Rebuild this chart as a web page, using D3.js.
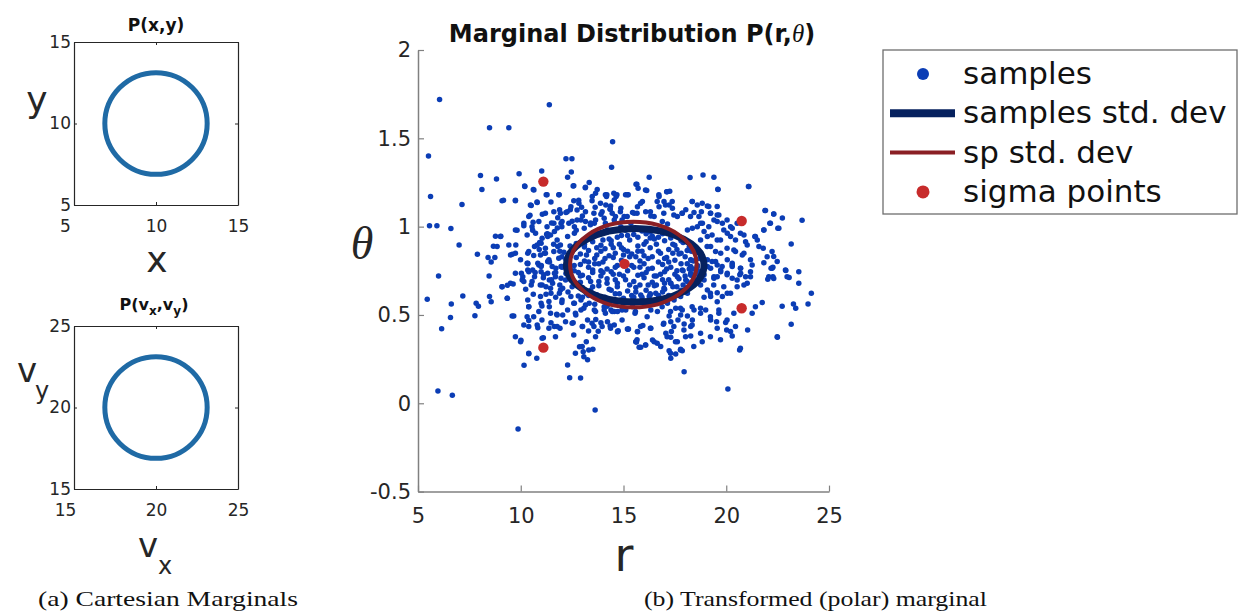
<!DOCTYPE html>
<html>
<head>
<meta charset="utf-8">
<script src="https://cdn.jsdelivr.net/npm/d3@7"></script>
<style>
  body { margin: 0; background: #fff; }
  svg { display: block; font-family: "DejaVu Sans", sans-serif; }
</style>
</head>
<body>
<svg id="fig" width="1239" height="613"></svg>
<script>
// ---- data ----
const posTicks = [5, 10, 15];
const velTicks = [15, 20, 25];
const rTicks = [5, 10, 15, 20, 25];
const thetaTicks = [-0.5, 0, 0.5, 1, 1.5, 2];

// 1-sigma contours of the cartesian marginals (centre, radius)
const posCircle = { cx: 10, cy: 10, rad: 3.12 };
const velCircle = { cx: 20, cy: 20, rad: 3.12 };

// polar samples [r, theta]
const samples = [
  // outliers / left side
  [6.05,1.72],[11.39,1.69],[8.48,1.56],[9.42,1.56],[14.47,1.48],[5.51,1.40],[12.2,1.385],[12.49,1.385],
  [14.42,1.336],[11.02,1.315],[9.92,1.30],[12.46,1.31],[8.04,1.29],[12.28,1.28],[8.82,1.27],[13.33,1.25],
  [10.19,1.23],[12.55,1.23],[8.11,1.21],[10.61,1.21],[13.14,1.22],[13.72,1.21],[5.61,1.17],[11.24,1.18],
  [11.87,1.18],[9.16,1.15],[9.74,1.15],[7.14,1.125],[10.51,1.12],[10.79,1.14],[11.47,1.14],[12.82,1.15],
  [13.48,1.17],[14.17,1.17],[14.64,1.17],[15.19,1.18],[15.61,1.24],[10.45,1.065],[11.05,1.07],[11.89,1.095],
  [12.41,1.095],[12.96,1.11],[13.62,1.11],[14.35,1.10],[5.56,1.005],[5.92,1.005],[6.60,0.99],[10.15,1.005],
  [10.6,1.025],[9.82,0.98],[10.58,0.98],[7.0,0.896],[7.89,0.844],[8.77,0.946],[9.03,0.946],[8.67,0.889],
  [8.41,0.825],[8.74,0.825],[8.56,0.80],[9.59,0.844],[9.76,0.896],[6.0,0.72],[8.46,0.72],[10.03,0.736],
  [10.34,0.79],[10.63,0.836],[10.92,0.91],[11.26,0.957],[11.78,0.993],
  // upper left of the ellipse
  [12.44,1.113],[12.93,1.038],[12.61,1.0],[11.96,1.019],[11.64,0.972],[11.31,0.944],[10.99,0.906],[11.15,0.85],
  [10.67,0.887],[10.34,0.85],[10.83,0.793],[11.31,0.802],[11.8,0.887],[12.28,0.944],[12.61,0.963],[13.09,0.991],
  [13.58,1.019],[14.06,1.047],[14.55,1.038],[15.03,1.057],[15.52,1.076],[13.58,0.963],[14.22,0.981],[14.87,1.0],
  [15.36,1.019],[10.99,0.745],[11.64,0.736],[11.96,0.774],[10.67,0.717],[10.34,0.755],[10.1,0.717],[11.39,0.698],
  [10.2,1.227],[10.64,1.208],[12.58,1.231],[13.15,1.223],[13.64,1.189],[14.12,1.18],[14.53,1.189],[15.1,1.18],
  [9.09,1.147],[9.74,1.147],[10.47,1.123],[10.8,1.136],[11.28,1.18],[11.85,1.18],[12.58,1.147],[12.83,1.132],
  [13.47,1.147],[13.88,1.132],[14.37,1.117],
  [11.2,1.076],[11.61,1.085],[11.93,1.076],[12.26,1.085],[12.74,1.094],[13.15,1.085],[13.56,1.076],[13.96,1.085],
  [14.45,1.076],[14.85,1.085],[10.39,1.057],[10.88,1.029],[10.15,1.019],[10.55,1.0],[11.28,1.0],[11.61,1.019],
  [12.01,1.029],[12.34,1.019],[12.74,1.038],[13.15,1.029],[13.39,1.01],[13.64,1.038],[14.12,1.019],[14.61,1.057],
  [14.93,1.038],[15.18,1.057],
  [9.74,0.981],[9.01,0.944],[8.85,0.887],[9.42,0.896],[9.74,0.85],[10.31,0.953],[10.72,0.963],[11.04,0.934],
  [11.45,0.953],[11.77,0.925],[10.8,0.896],[11.2,0.878],[11.61,0.859],[11.93,0.896],[10.39,0.859],[10.96,0.84],
  [11.37,0.812],[11.85,0.821],[9.99,0.812],[9.5,0.84],
  [10.31,0.793],[10.88,0.783],[11.53,0.774],[12.01,0.77],[9.74,0.736],[10.39,0.745],[11.12,0.727],[11.69,0.717],
  [12.18,0.698],[9.09,0.66],[9.5,0.679],[10.07,0.698],[10.55,0.689],[11.04,0.67],[11.45,0.651],[11.93,0.642],
  [12.5,0.66],
  // lower left
  [5.45,0.589],[6.62,0.562],[6.58,0.485],[6.15,0.422],[7.18,0.608],[7.83,0.566],[7.77,0.496],[7.94,0.549],
  [8.48,0.604],[8.56,0.575],[9.09,0.66],[9.35,0.668],[9.63,0.675],[9.35,0.594],[9.66,0.494],[10.15,0.689],
  [10.24,0.646],[10.51,0.67],[10.95,0.67],[10.61,0.617],[11.23,0.617],[11.47,0.623],[10.34,0.585],[10.39,0.547],
  [11.03,0.551],[10.15,0.443],[10.39,0.468],[10.63,0.49],[10.83,0.428],[11.03,0.472],[10.01,0.357],[10.39,0.281],
  [10.78,0.255],[10.16,0.215],[11.1,0.371],[11.47,0.456],[11.63,0.434],[11.75,0.504],[12.04,0.5],[11.91,0.425],
  [12.28,0.217],[12.38,0.145],[12.91,0.143],[12.86,0.32],[13.04,0.292],[13.19,0.349],[13.25,0.247],[13.51,0.306],
  [12.55,0.456],[13.01,0.434],[13.3,0.409],[13.56,0.434],[13.77,0.408],[13.65,0.475],[13.9,0.456],[14.35,0.438],
  [14.71,0.405],[15.22,0.419],[15.68,0.405],[15.61,0.349],[15.76,0.317],[13.62,-0.038],[9.87,-0.146],[5.97,0.07],
  [6.67,0.045],
  [10.34,0.793],[10.58,0.755],[10.99,0.774],[11.31,0.736],[11.71,0.764],[11.96,0.708],[11.55,0.679],[12.04,0.651],
  [12.44,0.604],[12.61,0.566],[12.93,0.585],[13.33,0.566],[13.58,0.528],[14.06,0.528],[14.22,0.575],[14.55,0.519],
  [14.95,0.532],[14.87,0.585],[15.35,0.57],[15.56,0.51],[13.25,0.472],[12.8,0.608],[12.44,0.698],[12.69,0.67],
  [11.23,0.66],[11.88,0.623],[10.99,0.566],[11.39,0.547],[12.28,0.528],[12.68,0.5],[12.93,0.528],
  [9.34,0.594],[10.39,0.547],[10.96,0.604],[11.37,0.576],[12.01,0.585],[12.58,0.566],[13.15,0.557],[10.88,0.519],
  [11.45,0.51],[9.58,0.494],[10.31,0.49],[11.77,0.5],[12.18,0.462],[12.66,0.51],[13.07,0.538],[13.64,0.519],
  [14.12,0.51],[14.45,0.519],[14.93,0.528],[14.93,0.472],
  [10.39,0.434],[10.8,0.443],[11.37,0.425],[11.77,0.434],[12.5,0.453],[12.99,0.434],[13.47,0.453],[13.96,0.434],
  [14.37,0.425],[9.74,0.377],[11.69,0.377],[12.58,0.387],[13.64,0.377],[9.99,0.349],[11.04,0.368],[12.99,0.321],
  [13.31,0.302],[10.39,0.283],[12.66,0.283],[13.07,0.264],
  // upper right
  [16.25,1.28],[18.24,1.278],[18.87,1.293],[19.4,1.28],[19.6,1.21],[21.08,1.227],[21.88,1.091],[22.31,1.072],
  [22.73,1.049],[23.69,1.036],[22.12,1.019],[22.51,0.991],[23.16,0.902],
  [15.65,1.24],[15.71,1.217],[16.13,1.204],[15.23,1.18],[14.68,1.18],[14.19,1.18],[14.55,1.151],[14.14,1.123],
  [14.35,1.098],[14.87,1.104],[15.44,1.08],[15.68,1.113],[15.92,1.142],[16.08,1.085],[16.33,1.06],[16.73,1.17],
  [17.1,1.198],[17.25,1.2],[16.97,1.142],[17.22,1.123],[17.38,1.104],[16.73,1.113],[16.49,1.057],[16.89,1.029],
  [17.14,1.015],[17.62,1.057],[17.86,1.076],[18.03,1.095],[18.35,1.142],[18.59,1.123],[18.43,1.08],[18.79,1.085],
  [19.08,1.117],[19.24,1.076],[19.56,1.066],[18.84,1.019],[18.59,1.0],[18.35,0.991],[18.11,0.981],[18.92,0.972],
  [19.08,0.944],[19.56,0.925],[19.4,1.038],[19.81,1.019],[20.05,0.963],[20.29,0.991],[20.53,1.019],
  [21.83,0.981],[21.39,0.944],[21.51,0.925],[21.8,0.878],[22.23,0.859],[22.31,0.831],[22.88,0.755],[23.53,0.745],
  [22.96,0.717],[22.27,0.717],[21.83,0.796],[21.26,0.783],[21.02,0.896],[20.86,0.953],[20.45,0.925],[20.78,0.84],
  [20.37,0.868],[20.05,0.812],[19.73,0.85],[19.48,0.802],[19.24,0.764],[19.73,0.745],[20.29,0.783],[20.7,0.736],
  [21.18,0.717],[18.75,0.925],[18.43,0.887],[18.75,0.85],[19.08,0.812],[18.59,0.774],[18.92,0.727],[19.24,0.887],
  [19.4,0.717],[18.27,0.812],[18.27,0.736],
  [16.07,1.208],[17.12,1.198],[16.72,1.18],[19.59,1.212],[21.1,1.227],[15.83,1.132],[16.64,1.142],[17.04,1.123],
  [17.37,1.142],[18.34,1.142],[18.83,1.132],[19.15,1.114],[19.56,1.114],[15.66,1.076],[16.31,1.085],[16.96,1.076],
  [17.45,1.066],[17.85,1.076],[18.26,1.057],[18.67,1.057],[19.23,1.076],[19.64,1.066],[20.04,1.038],[21.91,1.091],
  [22.31,1.072],
  [18.75,1.019],[19.15,1.0],[19.56,1.029],[19.88,0.981],[20.21,1.0],[19.31,0.953],[19.72,0.925],[20.21,0.944],
  [20.69,0.963],[20.94,0.915],[21.42,0.944],[21.83,0.981],[22.15,1.019],[22.56,0.991],[19.07,0.887],[19.48,0.859],
  [20.04,0.878],[20.45,0.859],[20.86,0.85],[21.18,0.812],[21.59,0.887],[21.99,0.83],[19.31,0.802],[19.8,0.774],
  [20.29,0.793],[20.69,0.764],[19.56,0.717],[20.04,0.727],[20.53,0.698],[21.02,0.679],[22.07,0.717],[22.23,0.764],
  [22.48,0.802],[19.39,0.67],[19.88,0.66],[20.21,0.623],[19.23,0.623],
  // lower right
  [14.06,0.547],[14.39,0.528],[14.71,0.519],[15.11,0.528],[15.44,0.547],[14.22,0.462],[14.55,0.443],[14.71,0.406],
  [15.19,0.421],[15.68,0.406],[15.6,0.349],[15.84,0.317],[16.08,0.33],[16.41,0.358],[16.81,0.321],[17.3,0.374],
  [17.62,0.349],[17.86,0.298],[18.27,0.381],[17.3,0.255],[17.54,0.279],[17.95,0.179],[17.14,0.566],[17.46,0.585],
  [17.78,0.604],[18.11,0.623],[18.19,0.651],[18.43,0.679],[18.03,0.698],[18.27,0.726],[18.59,0.755],[18.27,0.774],
  [17.86,0.755],[17.62,0.717],[17.3,0.679],[16.97,0.651],[16.57,0.623],[16.25,0.604],[15.84,0.613],[15.44,0.585],
  [15.03,0.575],[14.63,0.566],[14.3,0.575],
  [24.14,0.623],[23.98,0.562],[23.27,0.562],[23.38,0.538],[22.72,0.549],[22.49,0.374],[23.16,0.447],[23.53,0.679],
  [23.06,0.712],[22.9,0.751],[22.27,0.77],[22.18,0.764],[22.02,0.702],[22.31,0.706],[21.75,0.57],[21.42,0.547],
  [21.26,0.51],[21.04,0.415],[20.65,0.302],[20.08,0.081],[17.22,0.298],[17.78,0.306],[16.49,0.349],[15.63,0.347],
  [15.24,0.421],[14.74,0.41],[16.33,0.425],[15.94,0.44],[17.06,0.396],[17.33,0.406],[16.94,0.447],[17.3,0.462],
  [17.95,0.449],[17.78,0.5],[17.65,0.472],[17.22,0.494],[17.86,0.528],[17.54,0.538],[16.65,0.519],[16.33,0.528],
  [16.0,0.575],[18.35,0.472],[18.11,0.494],[18.43,0.528],[18.27,0.434],[18.75,0.538],[19.0,0.528],[19.24,0.472],
  [19.53,0.462],[19.64,0.51],[19.56,0.575],[19.97,0.457],[20.02,0.415],[20.29,0.381],[20.45,0.434],[20.37,0.51],
  [19.81,0.604],[20.05,0.623],[19.56,0.626],[20.53,0.66],[20.86,0.67],[20.94,0.717],[20.66,0.727],[20.29,0.708],
  [20.05,0.736],[19.73,0.755],[19.4,0.708],[19.08,0.642],[19.24,0.604],[18.92,0.6],[18.75,0.67],[18.92,0.698],
  [18.59,0.736],[19.08,0.774],[19.56,0.783],[20.29,0.774],[20.7,0.764],[21.18,0.745],
  [15.58,0.519],[16.15,0.49],[16.88,0.547],[17.29,0.519],[17.77,0.538],[18.34,0.547],[18.75,0.51],[19.23,0.49],
  [19.64,0.528],[20.04,0.472],[15.83,0.434],[16.31,0.425],[16.96,0.453],[17.45,0.434],[17.94,0.415],[18.34,0.443],
  [18.75,0.396],[19.56,0.425],[20.21,0.406],[15.66,0.359],[16.07,0.33],[16.64,0.34],[17.12,0.377],[17.53,0.349],
  [18.02,0.377],[18.42,0.321],[18.83,0.349],[19.23,0.377],[19.72,0.359],[17.29,0.283],[17.77,0.302],[20.69,0.311],
  [22.48,0.377],
  // around the contour
  [12.0,1.0],[12.5,1.03],[13.0,1.06],[13.4,1.02],[13.9,1.07],[12.7,0.98],[11.6,0.9],[11.9,0.86],
  [11.4,0.8],[11.7,0.74],[11.5,0.7],[11.2,0.85],[11.0,0.78],[11.3,0.96],[11.8,1.05],[12.2,1.08],
  [11.5,1.02],[10.9,0.87],[11.1,0.71],[10.7,0.74],[11.9,0.67],[12.3,0.63],[13.0,0.6],[13.6,0.56],
  [14.2,0.55],[12.0,0.57],[11.7,0.6],
  // inside the contour
  [13.6,0.95],[14.2,0.97],[14.7,0.94],[15.1,0.98],[15.5,0.955],[15.9,0.975],[16.4,0.945],[16.9,0.96],
  [17.3,0.935],[14.0,0.925],[13.2,0.93],
  [12.7,0.905],[13.1,0.885],[13.5,0.915],[13.9,0.895],[14.4,0.92],[14.8,0.9],[15.3,0.925],[15.7,0.89],
  [16.1,0.915],[16.6,0.9],[17.0,0.92],[17.5,0.895],[17.9,0.91],[18.2,0.885],[12.4,0.89],[16.3,0.935],
  [12.1,0.855],[12.5,0.87],[12.9,0.845],[13.3,0.865],[13.7,0.84],[14.1,0.875],[14.6,0.85],[15.0,0.87],
  [15.4,0.845],[15.9,0.86],[16.3,0.88],[16.8,0.85],[17.2,0.87],[17.7,0.845],[18.1,0.865],[18.5,0.85],
  [14.3,0.835],[16.0,0.835],
  [12.2,0.815],[12.7,0.825],[13.1,0.805],[13.6,0.82],[14.0,0.8],[14.5,0.825],[14.9,0.81],[15.3,0.83],
  [15.8,0.805],[16.2,0.82],[16.7,0.8],[17.1,0.825],[17.5,0.81],[18.0,0.83],[18.4,0.805],[18.7,0.82],
  [12.0,0.83],
  [12.0,0.775],[12.4,0.765],[12.9,0.785],[13.3,0.77],[13.8,0.79],[14.2,0.76],[14.7,0.78],[15.5,0.77],
  [16.0,0.79],[16.4,0.765],[16.9,0.785],[17.3,0.77],[17.8,0.79],[18.2,0.76],[18.6,0.78],[13.5,0.755],
  [12.2,0.735],[12.6,0.75],[13.0,0.725],[13.5,0.74],[13.9,0.72],[14.4,0.745],[14.8,0.73],[15.2,0.75],
  [15.7,0.725],[16.1,0.74],[16.6,0.72],[17.0,0.745],[17.5,0.73],[17.9,0.75],[18.3,0.725],[18.6,0.745],
  [12.5,0.7],[12.9,0.685],[13.3,0.71],[13.8,0.69],[14.2,0.705],[14.7,0.68],[15.1,0.7],[15.5,0.69],
  [16.0,0.71],[16.4,0.685],[16.9,0.7],[17.3,0.68],[17.7,0.705],[18.1,0.69],[18.4,0.7],
  [13.0,0.655],[13.4,0.64],[13.8,0.665],[14.3,0.645],[14.7,0.66],[15.2,0.635],[15.6,0.655],[16.1,0.64],
  [16.5,0.665],[17.0,0.645],[17.4,0.66],[17.8,0.64],[18.1,0.655],
  [13.7,0.615],[14.1,0.6],[14.6,0.62],[15.0,0.595],[15.4,0.61],[15.9,0.6],[16.3,0.615],[16.8,0.595],
  [17.2,0.61],[13.3,0.61],
  [12.3,0.8],[12.8,0.74],[13.2,0.84],[13.4,0.69],[13.9,0.86],[14.0,0.74],[14.5,0.88],[14.6,0.7],
  [15.1,0.79],[15.2,0.86],[15.6,0.83],[15.8,0.67],[16.2,0.76],[16.3,0.62],[16.7,0.86],[16.8,0.73],
  [17.2,0.8],[17.4,0.9],[17.6,0.66],[17.8,0.85],[18.0,0.72],[18.3,0.81],[14.9,0.95],[15.7,0.94],
  [16.5,0.93],[13.6,0.79],[14.4,0.64],[15.3,0.67],[16.6,0.67],[17.1,0.76],
  [12.4,0.84],[12.6,0.78],[12.9,0.72],[13.1,0.9],[13.3,0.8],[13.5,0.66],[13.7,0.88],[13.9,0.75],
  [14.1,0.82],[14.2,0.68],[14.4,0.9],[14.6,0.77],[14.8,0.62],[15.0,0.84],[15.0,0.72],[15.2,0.95],
  [15.4,0.78],[15.6,0.63],[15.7,0.86],[15.9,0.73],[16.1,0.96],[16.2,0.67],[16.4,0.83],[16.5,0.72],
  [16.7,0.94],[16.9,0.63],[17.0,0.82],[17.2,0.7],[17.4,0.85],[17.6,0.75],[17.8,0.92],[17.9,0.67],
  [18.1,0.79],[18.3,0.86],[18.5,0.73],[13.2,0.62],[12.6,0.68],[14.9,0.88],[16.0,0.9],[17.6,0.87],
  [18.4,0.76],[13.8,0.96],[15.5,0.6],[16.7,0.61],[12.2,0.77],[14.3,0.93],[16.3,0.97],[17.0,0.68],
  [15.8,0.77],[14.5,0.73]
];

// unscented-transform sigma points [r, theta]
const sigmaPoints = [[11.1,1.255],[15.05,0.789],[20.75,1.032],[11.1,0.315],[20.75,0.538]];

// std. dev contours: centre and semi-axes
const sampleStd = { r: 15.57, theta: 0.781, dr: 3.35, dtheta: 0.208 };
const spStd = { r: 15.48, theta: 0.785, dr: 3.08, dtheta: 0.242 };

const legendLabels = ["samples", "samples std. dev", "sp std. dev", "sigma points"];

// ---- drawing ----
const svg = d3.select("#fig");
const textCol = "#262626";

function styleTicks(g, size) {
  g.selectAll("text").attr("font-size", size).attr("fill", textCol)
    .attr("font-family", "DejaVu Sans, sans-serif");
}

function smallPlot(domain, ticks, circle, top) {
  const x = d3.scaleLinear().domain(domain).range([74, 238]);
  const y = d3.scaleLinear().domain(domain).range([top + 163, top]);
  const g = svg.append("g");

  const axes = [
    [d3.axisBottom(x), `translate(0,${top + 163})`, true],
    [d3.axisLeft(y), "translate(74,0)", true],
    [d3.axisTop(x), `translate(0,${top})`, false],
    [d3.axisRight(y), "translate(238,0)", false]
  ];
  axes.forEach(([ax, tr, labels]) => {
    ax.tickValues(ticks).tickSizeInner(-3).tickSizeOuter(0);
    if (!labels) ax.tickFormat("");
    const a = g.append("g").attr("transform", tr).call(ax);
    a.select(".domain").attr("stroke", "#262626").attr("stroke-width", 1.2);
    a.selectAll(".tick line").attr("stroke", "#262626");
    styleTicks(a, 17);
  });
  g.selectAll("g").filter((d, i) => i === 0).selectAll(".tick text").attr("y", 15);
  g.selectAll("g").filter((d, i) => i === 1).selectAll(".tick text").attr("x", -9);

  g.append("ellipse")
    .attr("cx", x(circle.cx)).attr("cy", y(circle.cy))
    .attr("rx", x(circle.cx + circle.rad) - x(circle.cx))
    .attr("ry", y(circle.cy) - y(circle.cy + circle.rad))
    .attr("fill", "none").attr("stroke", "#1f6aa5").attr("stroke-width", 5);
  return g;
}

// (a) cartesian marginals
const gPos = smallPlot([5, 15], posTicks, posCircle, 42);
gPos.append("text").attr("x", 156).attr("y", 31).attr("text-anchor", "middle")
  .attr("font-size", 17).attr("font-weight", "bold").attr("fill", "#111").text("P(x,y)");
gPos.append("text").attr("x", 157).attr("y", 272).attr("text-anchor", "middle")
  .attr("font-size", 36).attr("fill", textCol).text("x");
gPos.append("text").attr("x", 37).attr("y", 112).attr("text-anchor", "middle")
  .attr("font-size", 36).attr("fill", textCol).text("y");

const gVel = smallPlot([15, 25], velTicks, velCircle, 326);
const vt = gVel.append("text").attr("x", 154).attr("y", 310).attr("text-anchor", "middle")
  .attr("font-size", 16).attr("font-weight", "bold").attr("fill", "#111");
vt.append("tspan").text("P(v");
vt.append("tspan").attr("dy", 5).attr("font-size", 12).text("x");
vt.append("tspan").attr("dy", -5).text(",v");
vt.append("tspan").attr("dy", 5).attr("font-size", 12).text("y");
vt.append("tspan").attr("dy", -5).text(")");

gVel.append("text").attr("x", 148).attr("y", 557).attr("text-anchor", "middle")
  .attr("font-size", 34).attr("fill", textCol).text("v");
gVel.append("text").attr("x", 165).attr("y", 574).attr("text-anchor", "middle")
  .attr("font-size", 24).attr("fill", textCol).text("x");
gVel.append("text").attr("x", 27).attr("y", 382).attr("text-anchor", "middle")
  .attr("font-size", 34).attr("fill", textCol).text("v");
gVel.append("text").attr("x", 42).attr("y", 399).attr("text-anchor", "middle")
  .attr("font-size", 24).attr("fill", textCol).text("y");

// (b) polar marginal
const x = d3.scaleLinear().domain([5, 25]).range([418, 829]);
const y = d3.scaleLinear().domain([-0.5, 2]).range([491.6, 50]);

const xAxis = svg.append("g").attr("transform", "translate(0,491.6)")
  .call(d3.axisBottom(x).tickValues(rTicks).tickSizeInner(-6).tickSizeOuter(0).tickPadding(16));
const yAxis = svg.append("g").attr("transform", "translate(418,0)")
  .call(d3.axisLeft(y).tickValues(thetaTicks).tickSizeInner(-6).tickSizeOuter(0).tickPadding(7)
    .tickFormat(d => String(d)));
[xAxis, yAxis].forEach(a => {
  a.select(".domain").attr("stroke", "#808080").attr("stroke-width", 1.5);
  a.selectAll(".tick line").attr("stroke", "#808080").attr("stroke-width", 1.2);
  styleTicks(a, 21);
});

svg.append("g").selectAll("circle").data(samples).join("circle")
  .attr("cx", d => x(d[0])).attr("cy", d => y(d[1])).attr("r", 2.75)
  .attr("fill", "#0b3db5");

svg.append("ellipse")
  .attr("cx", x(sampleStd.r)).attr("cy", y(sampleStd.theta))
  .attr("rx", x(sampleStd.r + sampleStd.dr) - x(sampleStd.r))
  .attr("ry", y(sampleStd.theta) - y(sampleStd.theta + sampleStd.dtheta))
  .attr("fill", "none").attr("stroke", "#06215e").attr("stroke-width", 7);
svg.append("ellipse")
  .attr("cx", x(spStd.r)).attr("cy", y(spStd.theta))
  .attr("rx", x(spStd.r + spStd.dr) - x(spStd.r))
  .attr("ry", y(spStd.theta) - y(spStd.theta + spStd.dtheta))
  .attr("fill", "none").attr("stroke", "#8a1f24").attr("stroke-width", 4);

svg.append("g").selectAll("circle").data(sigmaPoints).join("circle")
  .attr("cx", d => x(d[0])).attr("cy", d => y(d[1])).attr("r", 5.2)
  .attr("fill", "#c72b2b");

// title and axis labels
const title = svg.append("text").attr("x", 632).attr("y", 42).attr("text-anchor", "middle")
  .attr("font-size", 24).attr("font-weight", "bold").attr("fill", "#111");
title.append("tspan").text("Marginal Distribution P(r,");
title.append("tspan").attr("font-family", "Liberation Serif, serif").attr("font-style", "italic")
  .attr("font-weight", "normal").attr("font-size", 25).text("θ");
title.append("tspan").text(")");

svg.append("text").attr("x", 624).attr("y", 571).attr("text-anchor", "middle")
  .attr("font-size", 46).attr("fill", textCol).text("r");
svg.append("text").attr("x", 362).attr("y", 259).attr("text-anchor", "middle")
  .attr("font-family", "Liberation Serif, serif").attr("font-style", "italic")
  .attr("font-size", 46).attr("fill", textCol).text("θ");

// legend
const lg = svg.append("g");
lg.append("rect").attr("x", 883).attr("y", 50).attr("width", 354).attr("height", 164)
  .attr("fill", "#fff").attr("stroke", "#6e6e6e").attr("stroke-width", 1.3);
const rows = lg.selectAll("g.row").data(legendLabels).join("g").attr("class", "row")
  .attr("transform", (d, i) => `translate(0,${74 + i * 39.3})`);
rows.append("text").attr("x", 963).attr("y", 10).attr("font-size", 31).attr("fill", "#111").text(d => d);
rows.each(function(d, i) {
  const r = d3.select(this);
  if (i === 0) r.append("circle").attr("cx", 923).attr("r", 6).attr("fill", "#0b3db5");
  if (i === 1) r.append("line").attr("x1", 890).attr("x2", 955).attr("stroke", "#06215e").attr("stroke-width", 8);
  if (i === 2) r.append("line").attr("x1", 890).attr("x2", 955).attr("stroke", "#8a1f24").attr("stroke-width", 4);
  if (i === 3) r.append("circle").attr("cx", 923).attr("r", 6.5).attr("fill", "#c72b2b");
});

// captions
svg.append("text").attr("x", 38).attr("y", 606).attr("font-family", "Liberation Serif, serif")
  .attr("font-size", 22).attr("fill", "#111").attr("textLength", 260).attr("lengthAdjust", "spacingAndGlyphs")
  .text("(a) Cartesian Marginals");
svg.append("text").attr("x", 644).attr("y", 606).attr("font-family", "Liberation Serif, serif")
  .attr("font-size", 22).attr("fill", "#111").attr("textLength", 343).attr("lengthAdjust", "spacingAndGlyphs")
  .text("(b) Transformed (polar) marginal");
</script>
</body>
</html>
